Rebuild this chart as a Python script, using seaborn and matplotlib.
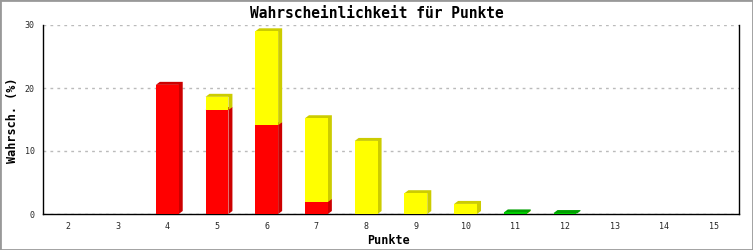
import matplotlib
matplotlib.use("Agg")
import matplotlib.pyplot as plt
from matplotlib.patches import Polygon, Rectangle
from matplotlib.transforms import IdentityTransform
import seaborn as sns
import numpy as np
import pandas as pd

categories = ["2", "3", "4", "5", "6", "7", "8", "9", "10", "11", "12", "13", "14", "15"]
red = [0, 0, 20.5, 16.5, 14.1, 1.9, 0, 0, 0, 0, 0, 0, 0, 0]
yellow = [0, 0, 0, 2.1, 14.9, 13.3, 11.6, 3.3, 1.6, 0.05, 0, 0, 0, 0]
green = [0, 0, 0, 0, 0, 0, 0, 0, 0, 0.2, 0.15, 0, 0, 0]
yticks = [0, 10, 20, 30]

front_colors = ["#FF0000", "#FFFF00", "#00CC00"]
side_colors = ["#CC0000", "#CCCC00", "#00A000"]

sns.set_theme(style="white")
plt.rcParams['font.family'] = ['DejaVu Sans Mono', 'DejaVu Sans']

W, H = 753, 250
fig = plt.figure(figsize=(W / 100, H / 100), dpi=100)
fig.patch.set_facecolor("white")
ax = fig.add_axes([43 / W, 36 / H, 696 / W, 189 / H])
ax.set_facecolor("white")

series = [red, yellow, green]
cum = np.cumsum(np.array(series, dtype=float), axis=0)
n = len(categories)

# draw cumulative totals, tallest first
for k in reversed(range(3)):
    df = pd.DataFrame({"Punkte": categories, "v": cum[k]})
    sns.barplot(data=df, x="Punkte", y="v", order=categories, color=front_colors[k],
                saturation=1, width=0.46, linewidth=0, ax=ax, errorbar=None)

ax.set_xlim(-0.5, n - 0.5)
ax.set_ylim(0, 30)

patches = list(ax.patches)
by_series = {2 - i: patches[i * n:(i + 1) * n] for i in range(3)}

dx, dy = 4, 3
for k in range(3):
    for j, p in enumerate(by_series[k]):
        bottom = cum[k - 1][j] if k > 0 else 0.0
        seg = series[k][j]
        p.set_y(bottom)
        p.set_height(seg)
        p.set_zorder(3 + 2 * k)
        p.set_facecolor(front_colors[k])
        if seg <= 0:
            continue
        x0 = p.get_x()
        x1 = x0 + p.get_width()
        top = bottom + seg
        (lx, ty) = ax.transData.transform((x0, top))
        (rx, by) = ax.transData.transform((x1, bottom))
        pts = [(lx, ty), (lx + dx, ty + dy), (rx + dx, ty + dy), (rx + dx, by + dy), (rx, by), (rx, ty)]
        poly = Polygon(pts, closed=True, facecolor=side_colors[k], edgecolor="none",
                       transform=IdentityTransform(), zorder=2 + 2 * k, clip_on=False)
        ax.add_patch(poly)

ax.set_axisbelow(True)
ax.yaxis.grid(True, linestyle=(0, (2, 3)), color="#BBBBBB", linewidth=1)
ax.xaxis.grid(False)
ax.set_yticks(yticks)
ax.set_yticklabels([str(t) for t in yticks])
ax.tick_params(axis="y", length=4, width=1, color="black", direction="out", labelsize=6, pad=2)
ax.tick_params(axis="x", length=0, labelsize=6, pad=6)
for s in ["left", "bottom", "right"]:
    ax.spines[s].set_visible(True)
    ax.spines[s].set_color("black")
    ax.spines[s].set_linewidth(1)
ax.spines["top"].set_visible(False)
ax.set_xlabel("")
ax.set_ylabel("")

fig.text(0.5, 1 - 13 / H, "Wahrscheinlichkeit für Punkte", ha="center", va="center",
         fontsize=10.5, fontweight="bold", color="black")
fig.text(13 / W, 1 - 120 / H, "Wahrsch. (%)", rotation=90, ha="center", va="center",
         fontsize=8.5, fontweight="bold", color="black")
fig.text(389 / W, 1 - 240 / H, "Punkte", ha="center", va="center",
         fontsize=8.5, fontweight="bold", color="black")

fig.add_artist(Rectangle((0, 0), 1, 1, transform=fig.transFigure, fill=False,
                         edgecolor="#999999", linewidth=2))

fig.savefig("out.png", dpi=100)
